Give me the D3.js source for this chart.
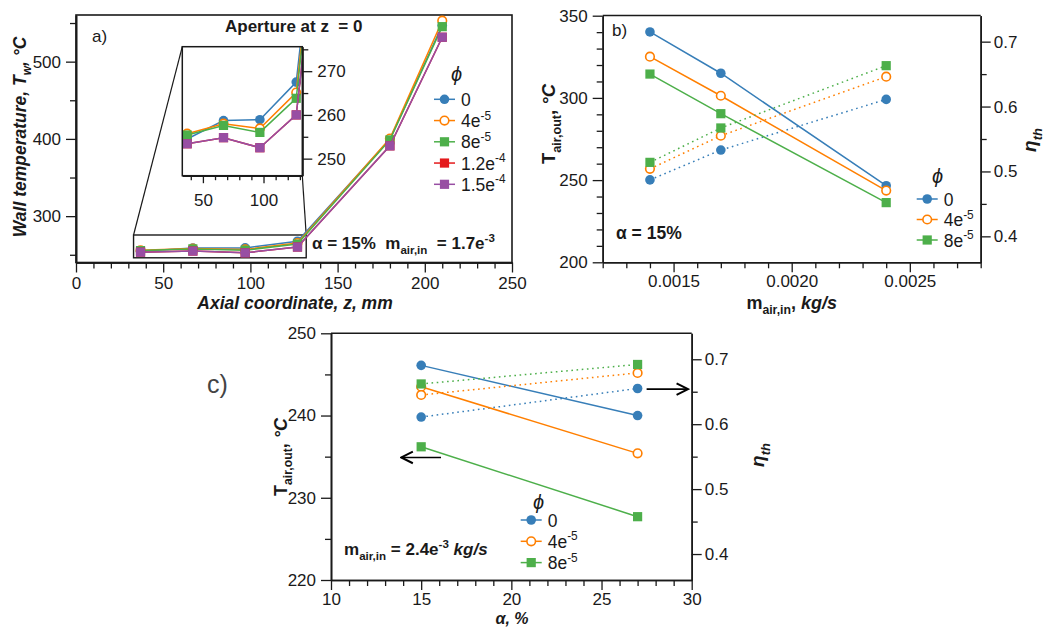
<!DOCTYPE html>
<html>
<head>
<meta charset="utf-8">
<script src="https://cdn.jsdelivr.net/npm/d3@7"></script>
<style>
  body { margin: 0; background: #fff; }
  text { font-family: "Liberation Sans", Arial, Helvetica, sans-serif; fill: #1a1a1a; }
</style>
</head>
<body>
<svg id="fig" width="1054" height="627"></svg>
<script>
// ---------- data ----------
// panel a: wall temperature along the receiver
var zAxial = [37, 67, 97, 127, 180, 210];
var twPhi0     = [254.5, 258.7, 258.9, 267.5, 399.5, 547.0];
var twPhi4e5   = [255.7, 258.0, 256.9, 265.1, 400.4, 553.0];
var twPhi8e5   = [255.4, 257.6, 256.0, 263.8, 398.7, 545.3];
var twPhi12e5  = [253.4, 254.8, 252.5, 260.0, 391.0, 531.6];
var twPhi15e5  = [253.4, 254.8, 252.5, 260.0, 391.0, 531.6];
var phiLabelsA = [["0", ""], ["4e", "-5"], ["8e", "-5"], ["1.2e", "-4"], ["1.5e", "-4"]];

// panel b: outlet air temp (solid) and efficiency (dotted) vs mass flow
var mAir = [0.0014, 0.0017, 0.0024];
var tOutB0   = [340.1, 315.0, 246.6];
var tOutB4e5 = [325.1, 301.3, 243.6];
var tOutB8e5 = [314.5, 290.4, 236.3];
var etaB0   = [0.487, 0.533, 0.611];
var etaB4e5 = [0.504, 0.555, 0.646];
var etaB8e5 = [0.514, 0.567, 0.663];

// panel c: same vs aperture ratio
var alphaPct = [15, 27];
var tOutC0   = [246.1, 240.0];
var tOutC4e5 = [243.5, 235.4];
var tOutC8e5 = [236.2, 227.7];
var etaC0   = [0.611, 0.655];
var etaC4e5 = [0.645, 0.679];
var etaC8e5 = [0.662, 0.692];
var phiLabelsBC = [["0", ""], ["4e", "-5"], ["8e", "-5"]];

// tick values
var ticksAx = [0, 50, 100, 150, 200, 250];
var ticksAy = [300, 400, 500];
var ticksInsetX = [50, 100];
var ticksInsetY = [250, 260, 270];
var ticksBx = [0.0015, 0.0020, 0.0025];
var ticksBy = [200, 250, 300, 350];
var ticksEta = [0.4, 0.5, 0.6, 0.7];
var ticksCx = [10, 15, 20, 25, 30];
var ticksCy = [220, 230, 240, 250];

// styles
var colors = ["#377eb8", "#ff7f00", "#4daf4a", "#e41a1c", "#984ea3"];
var marks = ["circle", "ring", "square", "square", "square"];

var svg = d3.select("#fig");
var ink = "#1a1a1a";
var NB = "\u00A0";

// text with sub/superscripts: parts = [[text, "sub|sup|it"], ...]
function rich(g, parts, size) {
  var t = g.append("text").style("font-size", size + "px");
  var shift = 0;
  parts.forEach(function(p) {
    var s = p[1] || "";
    var target = s.indexOf("sub") >= 0 ? size * 0.3 : (s.indexOf("sup") >= 0 ? -size * 0.42 : 0);
    var ts = t.append("tspan").text(p[0]).attr("dy", target - shift);
    shift = target;
    if (target !== 0) ts.style("font-size", (size * 0.68) + "px");
    if (s.indexOf("it") >= 0) ts.style("font-style", "italic");
  });
  return t;
}

function axis(g, orient, scale, major, minor, fmt, pad, at) {
  var mk = {bottom: d3.axisBottom, left: d3.axisLeft, right: d3.axisRight}[orient];
  var tr = orient === "bottom" ? "translate(0," + at + ")" : "translate(" + at + ",0)";
  var a = g.append("g").attr("transform", tr);
  a.append("g").call(mk(scale).tickValues(minor).tickSize(6).tickFormat("").tickSizeOuter(0));
  a.append("g").call(mk(scale).tickValues(major).tickSize(10).tickPadding(pad).tickFormat(fmt).tickSizeOuter(0));
  a.selectAll("path.domain").attr("stroke", ink).attr("stroke-width", 1.6);
  a.selectAll(".tick line").attr("stroke", ink).attr("stroke-width", 1.3);
  a.selectAll(".tick text").style("font-size", "17px");
  return a;
}

function marker(g, type, x, y, color) {
  if (type === "square") {
    g.append("rect").attr("x", x - 4.6).attr("y", y - 4.6).attr("width", 9.2).attr("height", 9.2).attr("fill", color);
  } else if (type === "ring") {
    g.append("circle").attr("cx", x).attr("cy", y).attr("r", 4.3).attr("fill", "#fff").attr("stroke", color).attr("stroke-width", 1.6);
  } else {
    g.append("circle").attr("cx", x).attr("cy", y).attr("r", 4.8).attr("fill", color);
  }
}

function series(g, xs, ys, xs_, ys_, color, mark, dotted) {
  var pts = xs.map(function(x, i) { return [x, ys[i]]; });
  g.append("path").datum(pts)
    .attr("d", d3.line().x(function(d) { return xs_(d[0]); }).y(function(d) { return ys_(d[1]); }))
    .attr("fill", "none").attr("stroke", color).attr("stroke-width", 1.5)
    .attr("stroke-dasharray", dotted ? "1.6,3.6" : null);
  pts.forEach(function(d) { marker(g, mark, xs_(d[0]), ys_(d[1]), color); });
}

function legend(g, x0, y0, dy, labels, phiX, phiY) {
  g.append("text").attr("x", phiX).attr("y", phiY).style("font-size", "20px").style("font-style", "italic").text("\u03D5");
  labels.forEach(function(l, i) {
    var y = y0 + i * dy;
    g.append("line").attr("x1", x0).attr("x2", x0 + 21).attr("y1", y).attr("y2", y).attr("stroke", colors[i]).attr("stroke-width", 1.5);
    marker(g, marks[i], x0 + 10.5, y, colors[i]);
    rich(g, [[l[0], ""], [l[1], "sup"]], 17.5).attr("x", x0 + 27).attr("y", y + 6.5);
  });
}

function minorRange(a, b, step, majors) {
  return d3.range(a, b + step / 2, step).filter(function(v) {
    return !majors.some(function(m) { return Math.abs(m - v) < step / 10; });
  });
}

// ================= panel a =================
var xA = d3.scaleLinear().domain([0, 250]).range([76, 512]);
var yA = d3.scaleLinear().domain([240, 560]).range([262.5, 15.3]);
var gA = svg.append("g");
var twAll = [twPhi0, twPhi4e5, twPhi8e5, twPhi12e5, twPhi15e5];

gA.append("rect").attr("x", 76).attr("y", 15).attr("width", 436).attr("height", 247.5)
  .attr("fill", "none").attr("stroke", ink).attr("stroke-width", 1.6);
axis(gA, "bottom", xA, ticksAx, minorRange(0, 250, 10, ticksAx), d3.format("d"), 4, 262.5);
axis(gA, "left", yA, ticksAy, [250, 350, 450, 550], d3.format("d"), 5, 76);

// inset
var xI = d3.scaleLinear().domain([33, 132]).range([182.3, 302.3]);
var yI = d3.scaleLinear().domain([246.1, 275.6]).range([175.7, 46.7]);
var zoomTop = yA(275.6), zoomBot = yA(246.1);
gA.append("rect").attr("x", xA(33)).attr("y", zoomTop).attr("width", xA(132) - xA(33)).attr("height", zoomBot - zoomTop)
  .attr("fill", "none").attr("stroke", ink).attr("stroke-width", 1.4);
gA.append("line").attr("x1", xA(33)).attr("y1", zoomTop).attr("x2", 182.3).attr("y2", 46.7).attr("stroke", ink).attr("stroke-width", 1.2);
gA.append("line").attr("x1", xA(132)).attr("y1", zoomTop).attr("x2", 302.3).attr("y2", 175.7).attr("stroke", ink).attr("stroke-width", 1.2);

twAll.forEach(function(tw, i) { series(gA, zAxial, tw, xA, yA, colors[i], marks[i], false); });

gA.append("rect").attr("x", 182.3).attr("y", 46.7).attr("width", 120).attr("height", 129).attr("fill", "#fff");
svg.append("clipPath").attr("id", "insetClip").append("rect").attr("x", 182.3).attr("y", 46.7).attr("width", 120).attr("height", 129);
var gI = gA.append("g").attr("clip-path", "url(#insetClip)");
twAll.forEach(function(tw, i) { series(gI, zAxial, tw, xI, yI, colors[i], marks[i], false); });
gA.append("rect").attr("x", 182.3).attr("y", 46.7).attr("width", 120).attr("height", 129)
  .attr("fill", "none").attr("stroke", ink).attr("stroke-width", 1.5);
var axIx = axis(gA, "bottom", xI, ticksInsetX, minorRange(40, 130, 10, ticksInsetX), d3.format("d"), 8, 175.7);
axIx.selectAll(".tick line").attr("y2", function() { return +d3.select(this).attr("y2") * 0.75; });
axis(gA, "right", yI, ticksInsetY, [255, 265, 275], d3.format("d"), 5, 302.3);

gA.append("text").attr("x", 225).attr("y", 32).style("font-size", "17px").style("font-weight", "bold")
  .text("Aperture at z" + NB + NB + "= 0");
gA.append("text").attr("x", 92).attr("y", 42).style("font-size", "17px").text("a)");
rich(gA, [["\u03B1 = 15%" + NB + NB + "m", ""], ["air,in", "sub"], [NB + NB + "= 1.7e", ""], ["-3", "sup"]], 17)
  .attr("x", 312).attr("y", 249).style("font-weight", "bold");
rich(gA, [["Wall temperature, T", ""], ["w", "sub"], [", \u00B0C", ""]], 17.5)
  .attr("transform", "translate(26,137) rotate(-90)").attr("text-anchor", "middle")
  .style("font-weight", "bold").style("font-style", "italic");
gA.append("text").attr("x", 295).attr("y", 309).attr("text-anchor", "middle")
  .style("font-size", "17.5px").style("font-weight", "bold").style("font-style", "italic").text("Axial coordinate, z, mm");
legend(gA, 434, 99.3, 21.25, phiLabelsA, 451, 81);

// ================= panel b =================
var xB = d3.scaleLinear().domain([0.0012, 0.0028]).range([602.7, 980.7]);
var yB = d3.scaleLinear().domain([200, 350]).range([262.3, 15.7]);
var yB2 = d3.scaleLinear().domain([0.36, 0.74]).range([262.3, 15.7]);
var gB = svg.append("g");
gB.append("line").attr("x1", 602.7).attr("x2", 980.7).attr("y1", 15.5).attr("y2", 15.5).attr("stroke", ink).attr("stroke-width", 1.6);
axis(gB, "bottom", xB, ticksBx, minorRange(0.0012, 0.0028, 0.0001, ticksBx), d3.format(".4f"), 3, 262.3);
axis(gB, "left", yB, ticksBy, minorRange(200, 350, 10, ticksBy), d3.format("d"), 5, 602.7);
axis(gB, "right", yB2, ticksEta, [0.45, 0.55, 0.65], d3.format(".1f"), 3, 980.7);

var tOutB = [tOutB0, tOutB4e5, tOutB8e5], etaB = [etaB0, etaB4e5, etaB8e5];
[0, 1, 2].forEach(function(i) {
  series(gB, mAir, tOutB[i], xB, yB, colors[i], marks[i], false);
  series(gB, mAir, etaB[i], xB, yB2, colors[i], marks[i], true);
});

gB.append("text").attr("x", 612).attr("y", 36).style("font-size", "17px").text("b)");
gB.append("text").attr("x", 616).attr("y", 239).style("font-size", "17.5px").style("font-weight", "bold").text("\u03B1 = 15%");
rich(gB, [["T", ""], ["air,out", "sub"], [", ", ""], ["\u00B0C", "it"]], 18.5)
  .attr("transform", "translate(555,124) rotate(-90)").attr("text-anchor", "middle").style("font-weight", "bold");
rich(gB, [["\u03B7", ""], ["th", "sub"]], 19)
  .attr("transform", "translate(1036,140) rotate(-90)").attr("text-anchor", "middle").style("font-weight", "bold").style("font-style", "italic");
rich(gB, [["m", ""], ["air,in", "sub"], [", ", ""], ["kg/s", "it"]], 18)
  .attr("x", 791.7).attr("y", 309).attr("text-anchor", "middle").style("font-weight", "bold");
legend(gB, 916.7, 199, 20.5, phiLabelsBC, 932, 183);

// ================= panel c =================
var xC = d3.scaleLinear().domain([10, 30]).range([331, 691.7]);
var yC = d3.scaleLinear().domain([220, 250]).range([580, 333.3]);
var yC2 = d3.scaleLinear().domain([0.36, 0.74]).range([580, 333.3]);
var gC = svg.append("g");
gC.append("line").attr("x1", 331).attr("x2", 691.7).attr("y1", 333.3).attr("y2", 333.3).attr("stroke", ink).attr("stroke-width", 1.6);
axis(gC, "bottom", xC, ticksCx, minorRange(10, 30, 1, ticksCx), d3.format("d"), 3, 580);
axis(gC, "left", yC, ticksCy, [225, 235, 245], d3.format("d"), 5, 331);
axis(gC, "right", yC2, ticksEta, [0.45, 0.55, 0.65], d3.format(".1f"), 3, 691.7);

var tOutC = [tOutC0, tOutC4e5, tOutC8e5], etaC = [etaC0, etaC4e5, etaC8e5];
[0, 1, 2].forEach(function(i) {
  series(gC, alphaPct, tOutC[i], xC, yC, colors[i], marks[i], false);
  series(gC, alphaPct, etaC[i], xC, yC2, colors[i], marks[i], true);
});

// arrows pointing at the relevant axis
svg.append("defs").append("marker").attr("id", "arrowHead").attr("viewBox", "0 0 10 10")
  .attr("refX", 9).attr("refY", 5).attr("markerWidth", 9).attr("markerHeight", 9).attr("orient", "auto")
  .append("path").attr("d", "M1,1 L9,5 L1,9").attr("fill", "none").attr("stroke", "#000").attr("stroke-width", 1.4);
gC.append("line").attr("x1", xC(16.1)).attr("x2", xC(13.9)).attr("y1", yC(234.9)).attr("y2", yC(234.9))
  .attr("stroke", "#000").attr("stroke-width", 1.6).attr("marker-end", "url(#arrowHead)");
gC.append("line").attr("x1", xC(27.5)).attr("x2", xC(29.8)).attr("y1", yC2(0.654)).attr("y2", yC2(0.654))
  .attr("stroke", "#000").attr("stroke-width", 1.6).attr("marker-end", "url(#arrowHead)");

gC.append("text").attr("x", 207).attr("y", 393).style("font-size", "25px").style("fill", "#444").text("c)");
rich(gC, [["m", ""], ["air,in", "sub"], [" = 2.4e", ""], ["-3", "sup"], [" kg/s", "it"]], 17)
  .attr("x", 344).attr("y", 555).style("font-weight", "bold");
rich(gC, [["T", ""], ["air,out", "sub"], [", ", ""], ["\u00B0C", "it"]], 18)
  .attr("transform", "translate(287,457) rotate(-90)").attr("text-anchor", "middle").style("font-weight", "bold");
rich(gC, [["\u03B7", ""], ["th", "sub"]], 19)
  .attr("transform", "translate(764,455) rotate(-90)").attr("text-anchor", "middle").style("font-weight", "bold").style("font-style", "italic");
gC.append("text").attr("x", 512).attr("y", 624).attr("text-anchor", "middle")
  .style("font-size", "16px").style("font-weight", "bold").style("font-style", "italic").text("\u03B1, %");
legend(gC, 520.7, 520, 21.3, phiLabelsBC, 533, 509);
</script>
</body>
</html>
